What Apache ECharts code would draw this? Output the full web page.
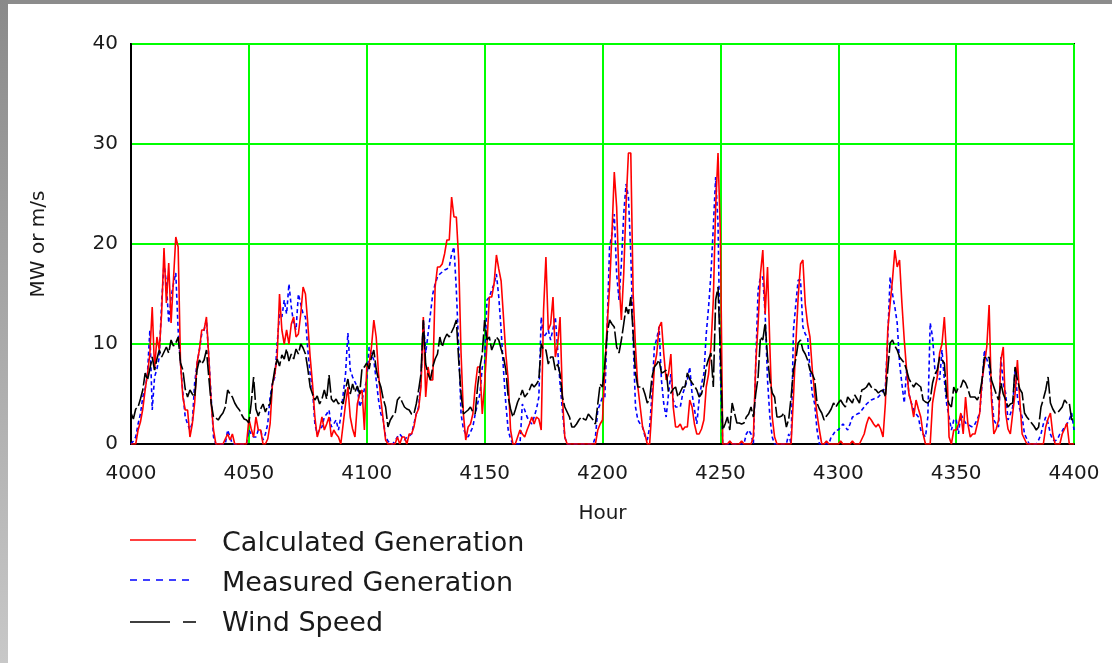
<!DOCTYPE html>
<html>
<head>
<meta charset="utf-8">
<script src="https://cdn.jsdelivr.net/npm/echarts@6/dist/echarts.min.js"></script>
<style>
  html, body { margin: 0; padding: 0; background: #fff; }
  #chart { width: 1112px; height: 663px; }
</style>
</head>
<body>
<div id="chart"></div>
<script>
// ---- Data (hourly values, hour 4000 .. 4400) ----
const START_HOUR = 4000;
const xTicks = [4000, 4050, 4100, 4150, 4200, 4250, 4300, 4350, 4400];
const yTicks = [0, 10, 20, 30, 40];
const seriesNames = ['Calculated Generation', 'Measured Generation', 'Wind Speed'];

// Calculated Generation (MW)
const calculated = [
  0, 0, 0, 1.4, 2.2, 3.5, 5.4, 7, 9, 13.7,
  7.4, 10.7, 9.4, 13.1, 19.6, 14.1, 18.1, 12.1, 16.4, 20.7,
  19.7, 8.1, 4.7, 3.4, 3.4, 0.7, 2, 4.1, 8.1, 9.4,
  11.4, 11.4, 12.7, 8.7, 4.1, 1.4, 0, 0, 0, 0,
  0.5, 1, 0.4, 1, 0, 0, 0, 0, 0, 0,
  2.5, 1.5, 0.7, 2.7, 1.4, 1.4, 0, 0, 0.5, 2,
  6, 7, 8.7, 15, 11.4, 10, 11.4, 10, 12, 12.7,
  10.7, 11, 13, 15.7, 15, 12, 8.7, 6, 2.7, 0.7,
  1.5, 2.7, 1.4, 2, 2.7, 0.7, 1.4, 1, 0.7, 0,
  2, 4, 5.7, 2.7, 1.5, 0.7, 4, 5, 5.4, 1.4,
  7.7, 8, 9.7, 12.4, 10.7, 7, 4.4, 2.4, 0.4, 0,
  0, 0, 0, 0.7, 0, 0.7, 0.7, 0, 1, 1,
  1.7, 3, 3.5, 5.7, 12.7, 4.7, 7.7, 6.4, 6.4, 15.7,
  17.7, 17.7, 18, 19, 20.4, 20.4, 24.7, 22.7, 22.7, 18.4,
  9.1, 3, 0.4, 1.7, 2, 3, 5.7, 7.7, 7.7, 3,
  6, 10, 14.7, 14.7, 16, 18.9, 17.5, 16.3, 12.7, 9,
  6.4, 1.4, 0, 0, 0.7, 1.4, 1, 0.7, 1.4, 2,
  2.7, 2, 2.7, 2.5, 1.4, 13.4, 18.7, 11.4, 12, 14.7,
  8.7, 10, 12.7, 4.7, 0.7, 0, 0, 0, 0, 0,
  0, 0, 0, 0, 0, 0, 0, 0, 1.4, 2,
  2.4, 7.7, 12, 15.7, 21, 27.2, 23.7, 16.4, 12.4, 17,
  24, 29.1, 29.1, 15, 9.7, 5.7, 3.7, 1.7, 1, 0,
  0, 3.7, 7.7, 9, 11.7, 12.2, 9, 6.4, 7, 9,
  3.7, 1.7, 1.7, 2, 1.4, 1.7, 1.7, 4.4, 3.7, 2,
  1, 1, 1.5, 2.4, 5.7, 7, 9.7, 14.4, 23.7, 29.1,
  21, 0, 0, 0, 0.3, 0, 0, 0, 0, 0.3,
  0, 0, 0, 0, 0.7, 8, 12, 17, 19.4, 13,
  17.7, 9.7, 2.7, 0.7, 0, 0, 0, 0, 0, 0,
  0, 4.7, 10, 14.7, 18, 18.4, 14, 12, 10.7, 7.4,
  5, 3, 1.4, 0, 0, 0.3, 0, 0, 0, 0,
  0, 0.3, 0, 0, 0, 0, 0.3, 0, 0, 0,
  0.5, 1, 2, 2.7, 2.4, 2, 1.7, 2, 1.5, 0.7,
  4.1, 11.4, 14, 16.4, 19.4, 17.7, 18.4, 14.1, 10.4, 7.4,
  5, 4.1, 2.7, 4.4, 3.5, 2.7, 1, 0, 0, 0,
  4.1, 5.5, 6.7, 9.1, 10, 12.7, 8.7, 0.7, 0, 1.4,
  1.4, 2, 3.1, 1, 4.7, 2, 0.7, 1, 1, 2,
  3.1, 6.4, 8, 9.7, 13.9, 4.4, 1, 1.5, 2.4, 8.4,
  9.7, 3.1, 1.5, 1, 3.1, 5, 8.4, 4.4, 1, 0.5,
  0, 0, 0, 0, 0, 0, 0, 0, 1.7, 2.5,
  3.1, 1, 0, 0, 0, 1, 1.5, 2.1, 0, 0,
  0
];

// Measured Generation (MW)
const measured = [
  0, 0.3, 0.7, 2, 3, 4.7, 5.5, 7.1, 11.4, 3.4,
  6.7, 7.5, 8.7, 14.1, 18.1, 16.1, 12.1, 14.7, 16, 17.1,
  11.4, 8.1, 5.1, 2.7, 2, 1.4, 2.1, 6.1, 8, 9.4,
  11, 11.4, 12.4, 8.7, 4.7, 0.7, 0, 0, 0, 0,
  0, 1.4, 0.7, 0, 0, 0, 0, 0, 0, 0,
  1.4, 1, 0.7, 0.7, 1.4, 1.4, 0.4, 1, 2, 4.7,
  6, 6.7, 10, 13, 12.7, 14.4, 13, 16, 13.7, 12,
  11.4, 15, 14, 13, 12.7, 9.4, 7, 5.4, 2, 1,
  1.5, 1.7, 2.7, 3, 3.4, 1.7, 2, 2.4, 1.4, 2.7,
  5, 7, 11.1, 7.4, 6.7, 6.2, 5.7, 3.7, 4.4, 5.5,
  6.4, 9.7, 9, 8.4, 6.4, 4.4, 3, 2.4, 0.7, 0.3,
  0, 0, 0.3, 0.7, 1, 0.7, 0.4, 0.7, 0.8, 1,
  2, 3, 3.7, 6.4, 12.4, 9.1, 11, 13, 15, 16,
  16.7, 17, 17.2, 17.4, 17.5, 17.7, 19, 19.7, 15.4, 9.7,
  3, 1.5, 1, 0.7, 1.2, 1.7, 3, 4, 5, 7.7,
  8, 14.4, 14.7, 15.4, 16, 17, 14.7, 11.4, 7.4, 4,
  1.4, 0.5, 0, 0, 0, 0, 4, 3.4, 2.7, 2.3,
  2, 2.7, 3.5, 4.7, 12.7, 10.7, 11, 11.4, 10.4, 11.5,
  12.7, 9.4, 6, 3.4, 0.7, 0, 0, 0, 0, 0,
  0, 0, 0, 0, 0, 0, 0, 0.7, 3.4, 4,
  4.7, 4.7, 12, 19.7, 21, 23, 17, 14.4, 18, 23,
  26, 24.7, 19, 10.4, 3.7, 2.4, 2, 1.7, 0.8, 0.4,
  1.7, 5, 9.7, 10.5, 11.7, 6.4, 4, 2.7, 5, 7,
  4.4, 3.7, 3.7, 3.7, 5, 5.7, 6.4, 7.7, 5, 3.5,
  2, 4.4, 6, 7, 11, 13.7, 17, 21.7, 26.7, 22,
  7, 0, 0, 0, 0, 0, 0, 0, 0, 0,
  0, 1, 1.4, 1, 0, 8, 15.4, 16.7, 16.7, 13,
  6.4, 2.7, 0.7, 0, 0, 0, 0, 0, 0, 1,
  0, 11.4, 14, 16.4, 16.4, 11.7, 11, 10.7, 7.4, 5,
  4, 1.4, 0, 0, 0, 0, 0, 0.7, 1, 1.4,
  1.4, 1.7, 2, 1.7, 1.4, 2, 2.7, 2.8, 3, 3.1,
  3.4, 3.7, 4, 4.2, 4.4, 4.5, 4.6, 4.7, 5, 5.3,
  5.7, 10.7, 16.7, 15, 13.7, 12.1, 8.1, 6, 4.1, 7.4,
  5, 4.1, 3.4, 3, 2.7, 1.4, 1, 0.7, 2.7, 12.1,
  10.7, 7.4, 7, 6.4, 9.4, 6.4, 4, 2.7, 1.4, 2.4,
  2.5, 1, 3, 2.5, 2.1, 2, 1.8, 1.7, 2, 2.5,
  3.1, 6, 9.4, 8.5, 7.7, 5.1, 2.4, 2, 1.7, 8.7,
  6, 5.1, 2.4, 3, 3.7, 7.4, 4.7, 3.5, 2.7, 1,
  0.5, 0, 0, 0, 0, 0.4, 1, 2, 2.7, 2.1,
  1, 0.4, 0.3, 0.5, 1, 1.3, 1.7, 2, 2.4, 3.1,
  1.4
];

// Wind Speed (m/s)
const windSpeed = [
  3.1, 2.5, 3.5, 3.7, 4.5, 5.4, 7.1, 6.4, 7.5, 8.7,
  7.4, 8.5, 9.4, 8.7, 9.2, 9.7, 9.1, 10.4, 9.8, 10.1,
  10.7, 8.1, 7.4, 5.5, 4.7, 5.4, 5, 4.7, 7.4, 8.4,
  8, 8.4, 9.4, 6.7, 4.1, 2.7, 2.6, 2.4, 2.8, 3.1,
  3.7, 5.4, 5, 4.7, 4.1, 3.7, 3.4, 2.9, 2.5, 2.4,
  2.1, 4.1, 6.7, 3.5, 2.8, 3.5, 4, 3.2, 3.8, 4,
  6, 7.5, 8.5, 7.8, 8.9, 8.5, 9.5, 8.3, 9, 8.5,
  9.5, 9, 10, 9.6, 9, 7.5, 5.7, 5, 4.4, 4.8,
  4, 4.5, 5.4, 4.5, 6.9, 4.5, 4.2, 4.5, 4, 4.3,
  4, 5.5, 6.5, 5, 6, 5.2, 5.8, 5, 7.6, 7.7,
  8.1, 7.5, 8.7, 9.4, 7.5, 6.4, 5.7, 4.5, 3.7, 1.7,
  2.4, 2.8, 3, 4.4, 4.7, 4.2, 3.7, 3.5, 3.4, 3,
  3, 4, 5.4, 7, 12.4, 8, 7, 6.4, 7.7, 8.5,
  9, 10.7, 9.7, 10.5, 11, 10.7, 11.2, 11.7, 12.4, 8.4,
  5, 3, 3.2, 3.4, 3.7, 3.2, 3, 5.7, 7.7, 9,
  12.4, 10.4, 10.7, 9.4, 10, 10.7, 10.4, 9.5, 8.7, 7.4,
  4.7, 3.5, 2.7, 3.4, 4.2, 4.7, 5.4, 4.7, 5, 5.4,
  6, 5.7, 6, 6.4, 10, 9.4, 9.4, 8, 8.7, 8.7,
  7.4, 8, 7, 4.7, 3.7, 3.2, 2.7, 1.7, 1.7, 2,
  2.4, 2.7, 2.5, 2.4, 3, 2.7, 2.4, 2, 4, 6,
  5.7, 8, 11.1, 12.4, 12, 11.7, 9.7, 9.1, 10.4, 12,
  13.7, 13, 14.7, 11.1, 7.1, 5.7, 5.7, 5.7, 5, 4.1,
  4.5, 6.7, 7.7, 8, 8.4, 7.1, 7.2, 7.4, 5.1, 5.1,
  5.5, 5.7, 4.7, 5.2, 5.7, 5.7, 7.1, 6.5, 6.1, 5.8,
  5.4, 4.7, 5, 6, 7.7, 8.5, 9.1, 5.7, 14.4, 15.7,
  9.1, 1.4, 2, 2.7, 1.4, 4.1, 3.1, 2.1, 2.1, 2,
  2.1, 2.7, 3, 3.7, 2.7, 5, 6.7, 10.7, 10.4, 12.1,
  8.7, 6.4, 5.1, 4.7, 2.7, 2.7, 2.8, 3.1, 1.7, 2.5,
  4.7, 7.4, 8.5, 10.1, 10.4, 9.4, 9, 8.4, 7.4, 7,
  6.4, 4.1, 3.5, 3.1, 2.4, 2.8, 3.1, 3.5, 4.1, 3.7,
  4.1, 4.4, 4, 3.7, 4.7, 4.4, 4.1, 4.9, 4.5, 4.1,
  5.4, 5.5, 5.7, 6.1, 5.7, 5.5, 5.4, 5.1, 5.3, 5.4,
  4.7, 7.4, 10.1, 10.4, 9.8, 9.4, 8.7, 8.4, 8.1, 7.4,
  6.5, 6.1, 5.7, 6.1, 5.9, 5.7, 4.4, 4.2, 4.1, 4.4,
  6.1, 7, 7.4, 8.7, 8.4, 8.1, 4.7, 4, 3.7, 5.7,
  5.1, 5.7, 5.7, 6.4, 6.1, 5.5, 4.7, 4.7, 4.7, 4.4,
  5, 6.4, 8.7, 8.5, 8.7, 6.4, 5.7, 5, 4.4, 6.1,
  5, 4.4, 3.7, 4, 4.1, 7.7, 6.4, 5.5, 5.1, 3.1,
  2.7, 2.4, 2.1, 1.8, 1.4, 1.7, 3.7, 4.5, 5.4, 6.7,
  4.1, 3.5, 3.1, 3.1, 3.4, 3.7, 4.4, 4.1, 4.1, 2.4,
  2.7
];

// ---- Build chart ----
function toPairs(arr) { return arr.map((v, i) => [START_HOUR + i, v]); }

const FONT = '"DejaVu Sans", sans-serif';
const chart = echarts.init(document.getElementById('chart'), null, { renderer: 'canvas' });

const legendTop = 540, legendStep = 40, legendTextX = 222;
const legendGraphics = [
  // frame (grey border, top and left)
  { type: 'rect', left: 0, top: 0, shape: { width: 1112, height: 4 }, style: { fill: '#8c8c8c' }, z: 100 },
  { type: 'rect', left: 0, top: 0, shape: { width: 8, height: 663 },
    style: { fill: new echarts.graphic.LinearGradient(0, 0, 0, 1, [
      { offset: 0, color: '#8a8a8a' }, { offset: 1, color: '#c8c8c8' }]) }, z: 100 },
  // legend samples
  { type: 'line', shape: { x1: 130, y1: legendTop, x2: 196, y2: legendTop },
    style: { stroke: '#ff0000', lineWidth: 1.5 } },
  { type: 'line', shape: { x1: 130, y1: legendTop + legendStep, x2: 192, y2: legendTop + legendStep },
    style: { stroke: '#0000ff', lineWidth: 1.5, lineDash: [7, 6] } },
  { type: 'line', shape: { x1: 130, y1: legendTop + 2 * legendStep + 2, x2: 196, y2: legendTop + 2 * legendStep + 2 },
    style: { stroke: '#000000', lineWidth: 1.5, lineDash: [40, 13, 13, 13] } }
];
seriesNames.forEach((name, i) => {
  legendGraphics.push({
    type: 'text', left: legendTextX, top: legendTop + i * legendStep - 10,
    style: { text: name, font: '27px ' + FONT, fill: '#1a1a1a' }
  });
});

const option = {
  animation: false,
  backgroundColor: '#ffffff',
  grid: { left: 131, right: 38, top: 44, bottom: 219, show: true, borderColor: '#000', borderWidth: 2 },
  xAxis: {
    type: 'value', min: xTicks[0], max: xTicks[xTicks.length - 1], interval: 50,
    name: 'Hour', nameLocation: 'middle', nameGap: 60,
    nameTextStyle: { fontFamily: FONT, fontSize: 20, color: '#1a1a1a' },
    axisLine: { show: true, onZero: false, lineStyle: { color: '#000', width: 2 } },
    axisTick: { show: false },
    axisLabel: { margin: 20, fontFamily: FONT, fontSize: 20, color: '#1a1a1a', formatter: v => String(v) },
    splitLine: { show: true, lineStyle: { color: '#00ff00', width: 2 } }
  },
  yAxis: {
    type: 'value', min: yTicks[0], max: yTicks[yTicks.length - 1], interval: 10,
    name: 'MW or m/s', nameLocation: 'middle', nameRotate: 90, nameGap: 82,
    nameTextStyle: { fontFamily: FONT, fontSize: 20, color: '#1a1a1a' },
    axisLine: { show: true, lineStyle: { color: '#000', width: 2 } },
    axisTick: { show: false },
    axisLabel: { margin: 13, fontFamily: FONT, fontSize: 20, color: '#1a1a1a', formatter: v => String(v) },
    splitLine: { show: true, lineStyle: { color: '#00ff00', width: 2 } }
  },
  series: [
    { name: seriesNames[1], type: 'line', data: toPairs(measured), showSymbol: false, z: 2,
      lineStyle: { color: '#0000ff', width: 1.6, type: [4, 3] } },
    { name: seriesNames[0], type: 'line', data: toPairs(calculated), showSymbol: false, z: 3,
      lineStyle: { color: '#ff0000', width: 1.6 } },
    { name: seriesNames[2], type: 'line', data: toPairs(windSpeed), showSymbol: false, z: 4,
      lineStyle: { color: '#000000', width: 1.6, type: [18, 3] } }
  ],
  graphic: legendGraphics
};
chart.setOption(option);
</script>
</body>
</html>
